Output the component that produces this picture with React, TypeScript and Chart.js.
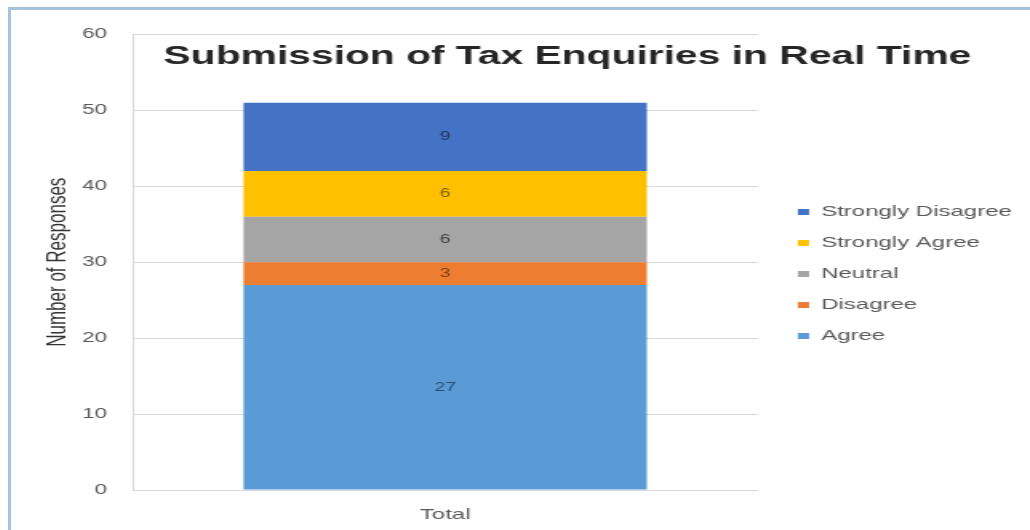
import React, { useEffect, useRef } from "react";
import { Chart, registerables } from "chart.js";

Chart.register(...registerables);

// ---- data ----
const categories = ["Total"];
const seriesNames = ["Agree", "Disagree", "Neutral", "Strongly Agree", "Strongly Disagree"];
const agreeValues = [27];
const disagreeValues = [3];
const neutralValues = [6];
const stronglyAgreeValues = [6];
const stronglyDisagreeValues = [9];
const yTickValues = [0, 10, 20, 30, 40, 50, 60];
const chartTitle = "Submission of Tax Enquiries in Real Time";
const yAxisTitle = "Number of Responses";

// ---- styles ----
const fillColors = ["#5B9BD5", "#ED7D31", "#A5A5A5", "#FFC000", "#4472C4"];
const valueLabelColors = ["#1F4E79", "#843C0C", "#404040", "#7F6000", "#1F3864"];
const FONT = "'Liberation Sans', Arial, sans-serif";
const STRETCH = 1.6; // the reference is horizontally stretched
const CSS_W = 1019;
const CSS_H = 520;
const CANVAS_W = Math.round(CSS_W / STRETCH);
const CANVAS_H = CSS_H;

const innerTitlePlugin = {
  id: "innerTitle",
  afterDraw(chart: any) {
    const ctx = chart.ctx;
    ctx.save();
    ctx.font = `bold 25.5px ${FONT}`;
    ctx.fillStyle = "#262626";
    ctx.textAlign = "center";
    ctx.textBaseline = "middle";
    ctx.fillText(chartTitle, chart.width * 0.546, 47);
    ctx.restore();
  },
};

const valueLabelPlugin = {
  id: "valueLabels",
  afterDatasetsDraw(chart: any) {
    const ctx = chart.ctx;
    ctx.save();
    ctx.font = `12px ${FONT}`;
    ctx.textAlign = "center";
    ctx.textBaseline = "middle";
    chart.data.datasets.forEach((ds: any, i: number) => {
      const meta = chart.getDatasetMeta(i);
      meta.data.forEach((bar: any, j: number) => {
        const { x, y, base } = bar.getProps(["x", "y", "base"], true);
        ctx.fillStyle = valueLabelColors[i];
        ctx.fillText(String(ds.data[j]), x, (y + base) / 2);
      });
    });
    ctx.restore();
  },
};

const legendShiftPlugin = {
  id: "legendShift",
  afterLayout(chart: any) {
    const l = chart.legend;
    if (l) {
      l.left += 9;
      l.right += 9;
      l.top -= 6;
      l.bottom -= 6;
    }
  },
};

export default function App() {
  const canvasRef = useRef<HTMLCanvasElement | null>(null);

  useEffect(() => {
    if (!canvasRef.current) return;
    const seriesValues = [
      agreeValues,
      disagreeValues,
      neutralValues,
      stronglyAgreeValues,
      stronglyDisagreeValues,
    ];
    const chart = new Chart(canvasRef.current, {
      type: "bar",
      data: {
        labels: categories,
        datasets: seriesNames.map((name, i) => ({
          label: name,
          data: seriesValues[i],
          backgroundColor: fillColors[i],
          borderWidth: 0,
          categoryPercentage: 1,
          barPercentage: 0.645,
        })),
      },
      options: {
        responsive: false,
        animation: false,
        devicePixelRatio: 1,
        layout: { padding: { top: 20, left: 0, right: 14.5, bottom: 0 } },
        font: { family: FONT },
        plugins: {
          title: { display: false },
          tooltip: { enabled: false },
          legend: {
            position: "right",
            reverse: true,
            labels: {
              font: { family: FONT, size: 15 },
              color: "#595959",
              boxWidth: 7,
              boxHeight: 6,
              padding: 16,
            },
          },
        },
        scales: {
          x: {
            stacked: true,
            grid: { display: false, drawTicks: false },
            border: { display: true, color: "#d9d9d9" },
            ticks: { font: { family: FONT, size: 15 }, color: "#595959", padding: 16 },
            afterFit: (s: any) => {
              s.height = 40;
            },
          },
          y: {
            stacked: true,
            min: 0,
            max: 60,
            afterBuildTicks: (s: any) => {
              s.ticks = yTickValues.map((v) => ({ value: v }));
            },
            ticks: { font: { family: FONT, size: 14 }, color: "#595959", padding: 16 },
            grid: { color: "#d9d9d9", drawTicks: false },
            border: { display: true, color: "#d9d9d9" },
            title: {
              display: true,
              text: yAxisTitle,
              font: { family: FONT, size: 17 },
              color: "#333333",
              padding: { top: 19, bottom: 0 },
            },
            afterFit: (s: any) => {
              s.width = 76;
            },
          },
        },
      } as any,
      plugins: [innerTitlePlugin, valueLabelPlugin, legendShiftPlugin],
    });
    return () => chart.destroy();
  }, []);

  return (
    <div
      style={{
        position: "fixed",
        left: 8,
        top: 7,
        width: 1022,
        height: 523,
        boxSizing: "border-box",
        borderTop: "3px solid #a7c3de",
        borderLeft: "3px solid #a7c3de",
        background: "#ffffff",
        overflow: "hidden",
      }}
    >
      <canvas
        ref={canvasRef}
        width={CANVAS_W}
        height={CANVAS_H}
        style={{ display: "block", width: `${CSS_W}px`, height: `${CSS_H}px` }}
      />
    </div>
  );
}
